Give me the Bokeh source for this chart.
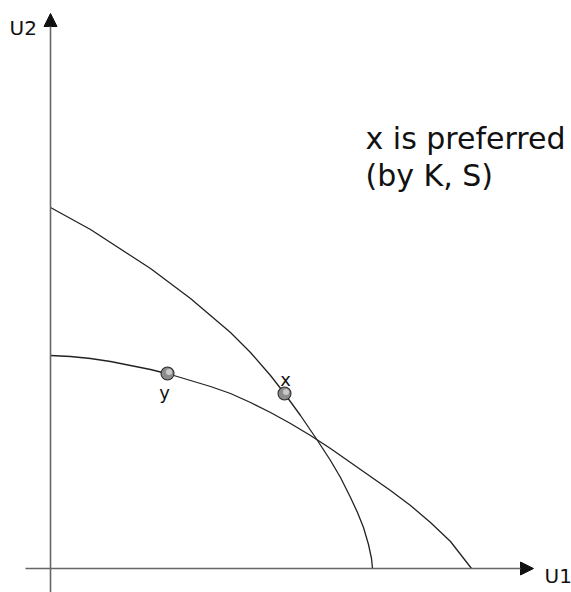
from bokeh.plotting import figure
from bokeh.models import Range1d, Arrow, NormalHead, Label
from bokeh.embed import file_html
from bokeh.resources import INLINE

# Utility possibility frontiers (U1 along x, U2 along y)
frontier_a_u1 = [0, 20, 40, 60, 80, 100, 120, 140, 160, 180, 200, 220, 234,
                 250, 267, 280, 290, 300, 307, 313, 318, 321, 322]
frontier_a_u2 = [361, 350, 339, 326, 313, 300, 285, 270, 253, 236, 216, 193, 175,
                 153, 128, 108, 91, 71, 56, 41, 24, 10, 0]

frontier_b_u1 = [0, 20, 40, 60, 80, 100, 120, 140, 160, 180, 200, 220, 240,
                 260, 280, 300, 320, 340, 360, 380, 400, 421]
frontier_b_u2 = [213, 212, 210, 207, 203, 199, 194, 188, 182, 175, 166, 156, 145,
                 133, 120, 106, 92, 78, 63, 46, 27, 0]

# Allocations marked on the frontiers
point_names = ["x", "y"]
point_u1 = [234, 117]
point_u2 = [175, 195]

axis_names = ["U1", "U2"]
note_lines = ["x is preferred", "(by K, S)"]

FONT = "DejaVu Sans"
INK = "#111111"

p = figure(
    width=571, height=592,
    x_range=Range1d(-50, 521), y_range=Range1d(-24, 568),
    x_axis_location=None, y_axis_location=None,
    output_backend="svg", toolbar_location=None,
    min_border=0, outline_line_color=None,
)
p.xgrid.visible = False
p.ygrid.visible = False

axis_color = "#666666"
# vertical axis with arrowhead
p.add_layout(Arrow(
    x_start=0, y_start=-24, x_end=0, y_end=555,
    line_color=axis_color, line_width=1.6,
    end=NormalHead(size=13, fill_color=INK, line_color=INK, line_width=1),
))
# horizontal axis with arrowhead
p.add_layout(Arrow(
    x_start=-25, y_start=0, x_end=483, y_end=0,
    line_color=axis_color, line_width=1.6,
    end=NormalHead(size=13, fill_color=INK, line_color=INK, line_width=1),
))

# frontiers
p.line(frontier_a_u1, frontier_a_u2, line_color="#222222", line_width=1.3)
p.line(frontier_b_u1, frontier_b_u2, line_color="#222222", line_width=1.3)

# shaded balls for the allocations
p.scatter(point_u1, point_u2, size=13, marker="circle",
          fill_color="#8c8c8c", line_color="#2a2a2a", line_width=1.1)
p.scatter([u + 1.5 for u in point_u1], [v + 1.5 for v in point_u2], size=6,
          marker="circle", fill_color="#d8d8d8", fill_alpha=0.8, line_color=None)

# point labels
p.add_layout(Label(x=point_u1[0] + 1, y=point_u2[0] + 14, text=point_names[0],
                   text_align="center", text_baseline="alphabetic",
                   text_font=FONT, text_font_size="18px", text_color=INK))
p.add_layout(Label(x=point_u1[1] - 3, y=point_u2[1] - 19, text=point_names[1],
                   text_align="center", text_baseline="alphabetic",
                   text_font=FONT, text_font_size="18px", text_color=INK))

# axis names
p.add_layout(Label(x=494, y=-7, text=axis_names[0], text_align="left",
                   text_baseline="alphabetic", text_font=FONT,
                   text_font_size="20px", text_color=INK))
p.add_layout(Label(x=-41, y=541, text=axis_names[1], text_align="left",
                   text_baseline="alphabetic", text_font=FONT,
                   text_font_size="20px", text_color=INK))

# annotation
p.add_layout(Label(x=315, y=430, text=note_lines[0], text_align="left",
                   text_baseline="alphabetic", text_font=FONT,
                   text_font_size="30px", text_color=INK))
p.add_layout(Label(x=315, y=393, text=note_lines[1], text_align="left",
                   text_baseline="alphabetic", text_font=FONT,
                   text_font_size="30px", text_color=INK))

open("out.html", "w").write(file_html(p, INLINE))
